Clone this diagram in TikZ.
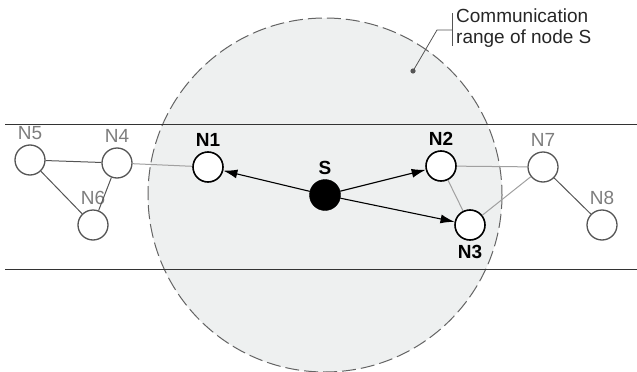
\documentclass[tikz,border=0pt]{standalone}
\usepackage{fontspec}
\setmainfont{Liberation Sans}
\usepackage{xcolor}
\usetikzlibrary{arrows.meta}

\definecolor{rangefill}{RGB}{238,240,240}
\definecolor{rangeline}{RGB}{100,100,100}
\definecolor{farnode}{RGB}{85,85,85}
\definecolor{farlabel}{RGB}{125,125,125}
\definecolor{weaklink}{RGB}{160,160,160}

\tikzset{
	near/.style={circle,draw=black,fill=white,line width=1.6pt,minimum size=30pt,inner sep=0pt},
	far/.style={circle,draw=farnode,fill=white,line width=1.3pt,minimum size=30pt,inner sep=0pt},
	src/.style={circle,draw=black,fill=black,minimum size=31pt,inner sep=0pt},
	nlbl/.style={font=\fontsize{19}{21}\selectfont\bfseries,text=black},
	flbl/.style={font=\fontsize{19}{21}\selectfont,text=farlabel},
	hop/.style={-{Latex[length=14pt,width=9pt]},line width=1.1pt},
	strong/.style={draw=farnode,line width=1pt},
	weak/.style={draw=weaklink,line width=1pt}
}

\begin{document}
\begin{tikzpicture}[x=1pt,y=-1pt]
		\useasboundingbox (0,0) rectangle (637,372);
		
		% Draw range of S
		\fill[rangefill] (325,195) circle (177);
		\draw[rangeline,dashed,dash pattern=on 14pt off 5pt,line width=1pt] (325,195) circle (177);
		
		% Draw road borders
		\draw[line width=1pt,black!80] (5,124) -- (637,124);
		\draw[line width=1pt,black!80] (5,269) -- (637,269);
		
		% Nodes
		\node[src,label={[nlbl,label distance=1pt]above:S}] (S) at (325,195) {};
		\node[near,label={[nlbl,label distance=1pt]above:N1}] (N1) at (208,167) {};
		\node[near,label={[nlbl,label distance=1pt]above:N2}] (N2) at (441,166) {};
		\node[near,label={[nlbl,label distance=1pt]below:N3}] (N3) at (470,225) {};
		\node[far,label={[flbl,label distance=1pt]above:N4}] (N4) at (117,163) {};
		\node[far,label={[flbl,label distance=1pt]above:N5}] (N5) at (30,160) {};
		\node[far,label={[flbl,label distance=1pt]above:N6}] (N6) at (93,225) {};
		\node[far,label={[flbl,label distance=1pt]above:N7}] (N7) at (543,167) {};
		\node[far,label={[flbl,label distance=1pt]above:N8}] (N8) at (602,225) {};
		
		% Links between neighbours
		\draw[strong] (N5) -- (N4);
		\draw[strong] (N5) -- (N6);
		\draw[strong] (N4) -- (N6);
		\draw[strong] (N7) -- (N8);
		\draw[weak] (N4) -- (N1);
		\draw[weak] (N2) -- (N7);
		\draw[weak] (N3) -- (N7);
		\draw[weak] (N2) -- (N3);
		
		% Transmissions from S
		\draw[hop] (S) -- (N1);
		\draw[hop] (S) -- (N2);
		\draw[hop] (S) -- (N3);
		
		% Callout for the range
		\coordinate (dot) at (413,71);
		\fill[farnode] (dot) circle (2.6);
		\draw[farnode,line width=0.8pt] (dot) -- (437,30) -- (452,30);
		\draw[farnode,line width=0.8pt] (452,13) -- (452,46);
		\node[font=\fontsize{19}{21}\selectfont,text=black!85,align=left,anchor=north west,inner sep=0pt] (note) at (456,9) {Communication\\range of node S};
	\end{tikzpicture}
\end{document}
